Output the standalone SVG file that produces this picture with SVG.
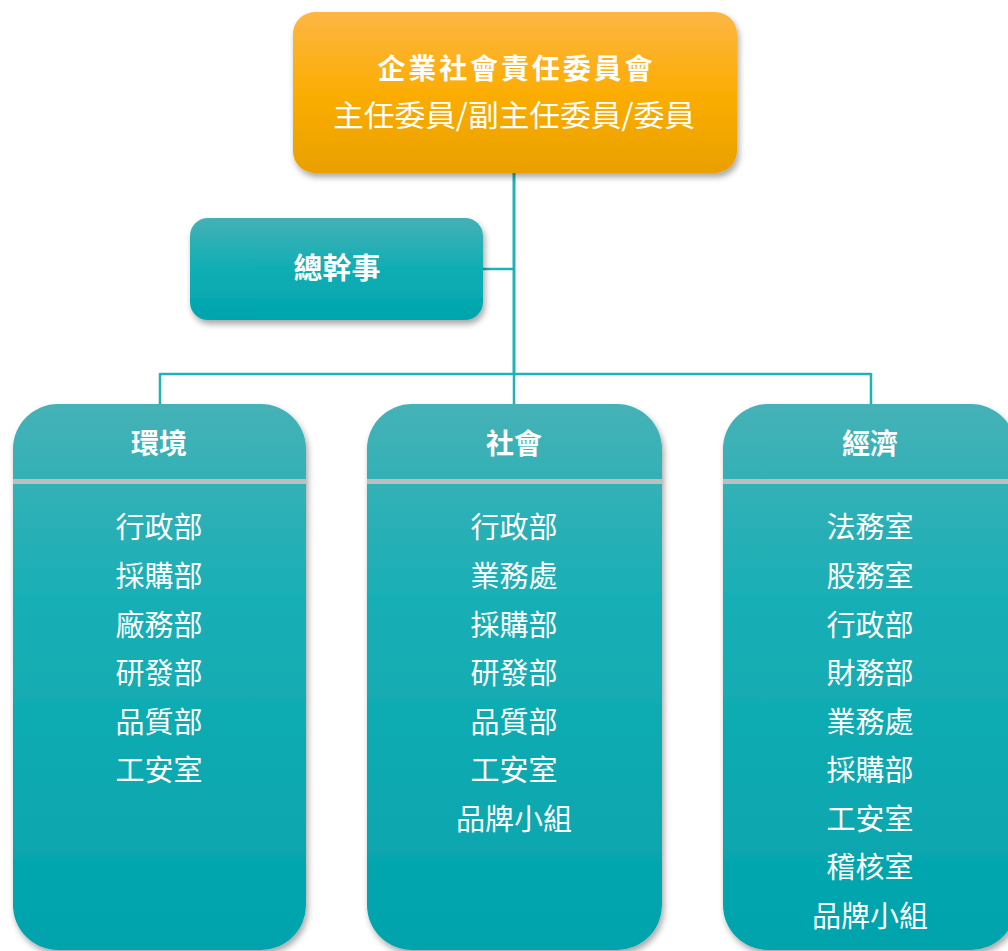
<svg xmlns="http://www.w3.org/2000/svg" width="1008" height="951" viewBox="0 0 1008 951">
<defs>
<linearGradient id="gOrange" x1="0" y1="0" x2="0" y2="1">
<stop offset="0" stop-color="#FDB645"/>
<stop offset="0.5" stop-color="#FBAD03"/>
<stop offset="1" stop-color="#E9A000"/>
</linearGradient>
<linearGradient id="gTeal" x1="0" y1="0" x2="0" y2="1">
<stop offset="0" stop-color="#44B1B6"/>
<stop offset="0.5" stop-color="#0FAEB4"/>
<stop offset="1" stop-color="#00A4AD"/>
</linearGradient>
<linearGradient id="gCol" x1="0" y1="0" x2="0" y2="1">
<stop offset="0" stop-color="#45B2B7"/>
<stop offset="0.35" stop-color="#19AFB5"/>
<stop offset="1" stop-color="#00A3AC"/>
</linearGradient>
<filter id="sh" x="-10%" y="-10%" width="125%" height="130%">
<feDropShadow dx="2" dy="4" stdDeviation="3" flood-color="#000" flood-opacity="0.35"/>
</filter>
</defs>
<style>
text{font-family:"Noto Sans CJK TC","Noto Sans CJK SC",sans-serif;fill:#fff;text-anchor:middle;dominant-baseline:central}
.b{font-weight:bold}
.t{font-size:28px}
.s{font-size:30px}
.h{font-size:28px}
.i{font-size:29px}
.line{stroke:#1FB2B8;fill:none}
</style>
<g id="connectors">
<line class="line" x1="514" y1="173" x2="514" y2="375" stroke-width="3"/>
<line class="line" x1="483" y1="269" x2="514" y2="269" stroke-width="2.5"/>
<line class="line" x1="160" y1="374" x2="871" y2="374" stroke-width="2.5"/>
<line class="line" x1="160" y1="373" x2="160" y2="405" stroke-width="2.5"/>
<line class="line" x1="514" y1="373" x2="514" y2="405" stroke-width="2.5"/>
<line class="line" x1="871" y1="373" x2="871" y2="405" stroke-width="2.5"/>
</g>
<g id="committee">
<rect x="293" y="12" width="444" height="161" rx="22" fill="url(#gOrange)" filter="url(#sh)"/>
<text class="t b" x="515" y="67" textLength="275" lengthAdjust="spacing">企業社會責任委員會</text>
<text class="s" x="514" y="113" textLength="362" lengthAdjust="spacingAndGlyphs">主任委員/副主任委員/委員</text>
</g>
<g id="general-secretary">
<rect x="190" y="218" width="293" height="102" rx="18" fill="url(#gTeal)" filter="url(#sh)"/>
<text class="i b" x="337" y="266">總幹事</text>
</g>
<g id="environment">
<rect x="13" y="404" width="293" height="546" rx="45" fill="url(#gCol)" filter="url(#sh)"/>
<rect x="13" y="479" width="293" height="5" fill="#BEBEBE"/>
<text class="h b" x="159" y="442">環境</text>
<text class="i" x="159" y="525">行政部</text>
<text class="i" x="159" y="574">採購部</text>
<text class="i" x="159" y="622.5">廠務部</text>
<text class="i" x="159" y="671">研發部</text>
<text class="i" x="159" y="719.5">品質部</text>
<text class="i" x="159" y="768">工安室</text>
</g>
<g id="society">
<rect x="367" y="404" width="295" height="546" rx="45" fill="url(#gCol)" filter="url(#sh)"/>
<rect x="367" y="479" width="295" height="5" fill="#BEBEBE"/>
<text class="h b" x="514" y="442">社會</text>
<text class="i" x="514" y="525">行政部</text>
<text class="i" x="514" y="574">業務處</text>
<text class="i" x="514" y="622.5">採購部</text>
<text class="i" x="514" y="671">研發部</text>
<text class="i" x="514" y="719.5">品質部</text>
<text class="i" x="514" y="768">工安室</text>
<text class="i" x="514" y="816.5">品牌小組</text>
</g>
<g id="economy">
<rect x="723" y="404" width="293" height="546" rx="45" fill="url(#gCol)" filter="url(#sh)"/>
<rect x="723" y="479" width="293" height="5" fill="#BEBEBE"/>
<text class="h b" x="870" y="442">經濟</text>
<text class="i" x="870" y="525">法務室</text>
<text class="i" x="870" y="574">股務室</text>
<text class="i" x="870" y="622.5">行政部</text>
<text class="i" x="870" y="671">財務部</text>
<text class="i" x="870" y="719.5">業務處</text>
<text class="i" x="870" y="768">採購部</text>
<text class="i" x="870" y="816.5">工安室</text>
<text class="i" x="870" y="865">稽核室</text>
<text class="i" x="870" y="913.5">品牌小組</text>
</g>
</svg>
